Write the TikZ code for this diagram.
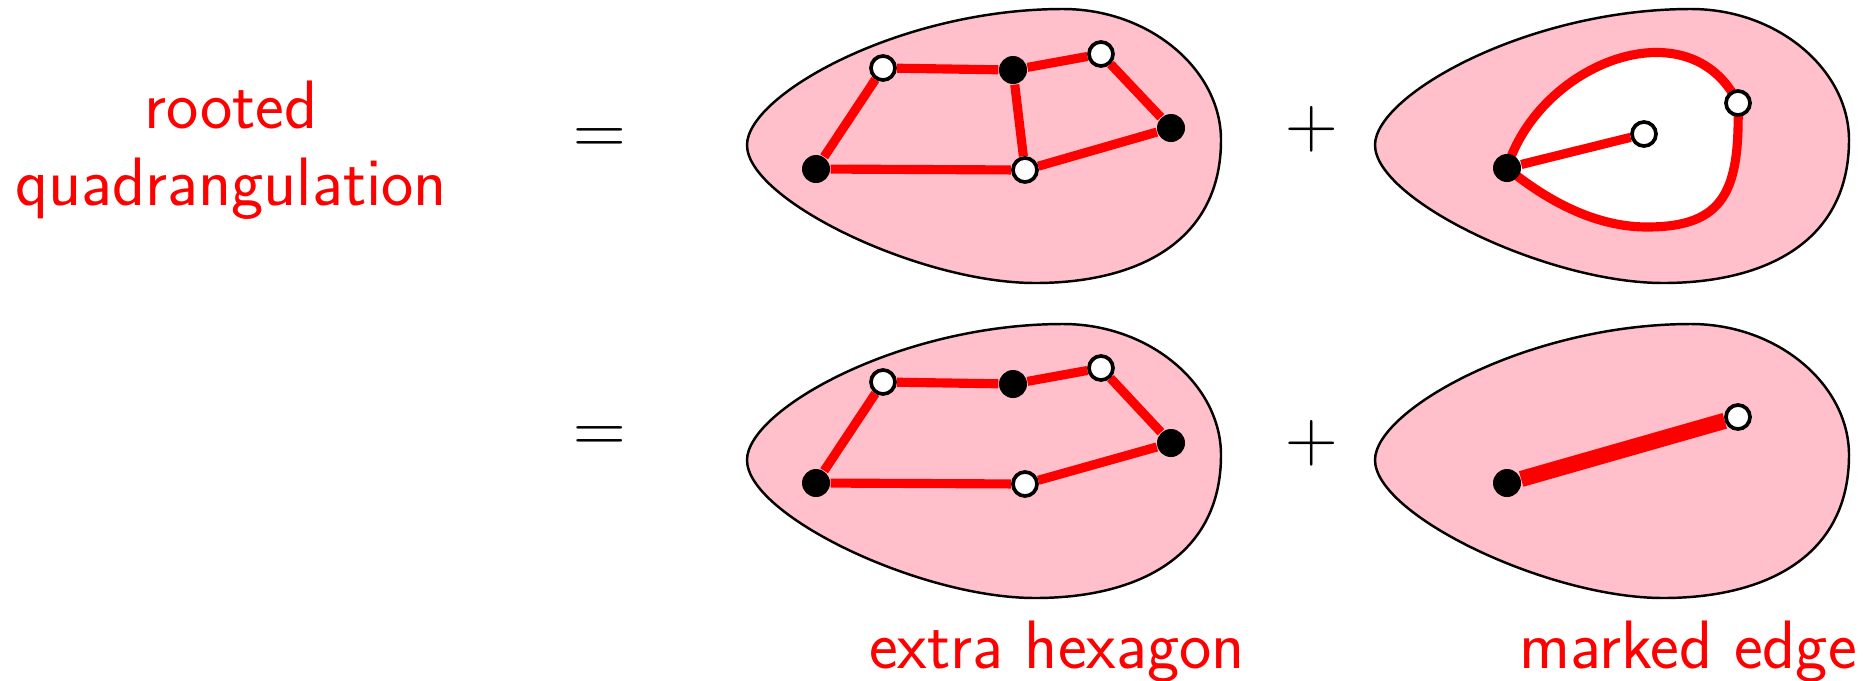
\documentclass[tikz,border=0pt]{standalone}
\usepackage{tikz}
\usetikzlibrary{backgrounds}
\definecolor{blobpink}{RGB}{255,192,203}
\tikzset{
  blobline/.style={draw=black,fill=blobpink,line width=0.7pt},
  redline/.style={red,line width=2.6pt},
  markedline/.style={red,line width=4.6pt},
  blackv/.style={circle,fill=black,minimum size=2.8mm,inner sep=0pt},
  whitev/.style={circle,draw=black,fill=white,line width=1.05pt,minimum size=2.4mm,inner sep=0pt},
  redtext/.style={red,font=\fontsize{19.5}{21.9}\selectfont\sffamily,anchor=base},
  signtext/.style={font=\fontsize{19.5}{21.9}\selectfont,anchor=base}
}
\newcommand{\blob}[2]{\draw[blobline,shift={(#1,#2)}] (0,0) .. controls (0,-50) and (153,-136) .. (316,-136) .. controls (403,-136) and (474,-75) .. (474,-5) .. controls (474,95) and (393,138) .. (288,138) .. controls (173,138) and (0,55) .. (0,0) -- cycle;}
\newcommand{\blackdot}[3]{\node[blackv] (#1) at (#2,#3) {};}
\newcommand{\whitedot}[3]{\node[whitev] (#1) at (#2,#3) {};}

\begin{document}
\begin{tikzpicture}[x=0.1mm,y=-0.1mm]
\useasboundingbox (0,0) rectangle (1863,680);
\node[redtext,align=center] (rq) at (231,205) {rooted\\quadrangulation};
\node[signtext] (eq1) at (600,154) {$=$};
\node[signtext] (eq2) at (600,452) {$=$};
\node[signtext] (pl1) at (1312,147) {$+$};
\node[signtext] (pl2) at (1312,461) {$+$};
\node[redtext] (xh) at (1057,668) {extra hexagon};
\node[redtext] (me) at (1688,668) {marked edge};
\blackdot{qa}{816}{169}
\whitedot{qb}{883}{68}
\blackdot{qc}{1013}{70}
\whitedot{qd}{1101}{54}
\blackdot{qe}{1171}{128}
\whitedot{qf}{1025}{170}
\blackdot{lr}{1507}{168}
\whitedot{lc}{1644}{134}
\whitedot{lw}{1738}{103}
\blackdot{ha}{816}{483}
\whitedot{hb}{883}{382}
\blackdot{hc}{1013}{384}
\whitedot{hd}{1101}{368}
\blackdot{he}{1171}{443}
\whitedot{hf}{1025}{484}
\blackdot{mr}{1507}{483}
\whitedot{mw}{1738}{417}
\begin{scope}[on background layer]
\blob{747}{145}
\blob{1375}{145}
\blob{747}{460}
\blob{1375}{460}
\draw[redline] (qa) -- (qb) -- (qc) -- (qd) -- (qe) -- (qf) -- (qa);
\draw[redline] (qc) -- (qf);
\draw[redline,fill=white] (lr.center) .. controls (1540,62) and (1690,5) .. (lw.center) .. controls (1740,190) and (1725,227) .. (1647,227) .. controls (1590,227) and (1540,195) .. (lr.center) -- cycle;
\draw[redline] (lr) -- (lc);
\draw[redline] (ha) -- (hb) -- (hc) -- (hd) -- (he) -- (hf) -- (ha);
\draw[markedline] (mr) -- (mw);
\end{scope}
\end{tikzpicture}
\end{document}
